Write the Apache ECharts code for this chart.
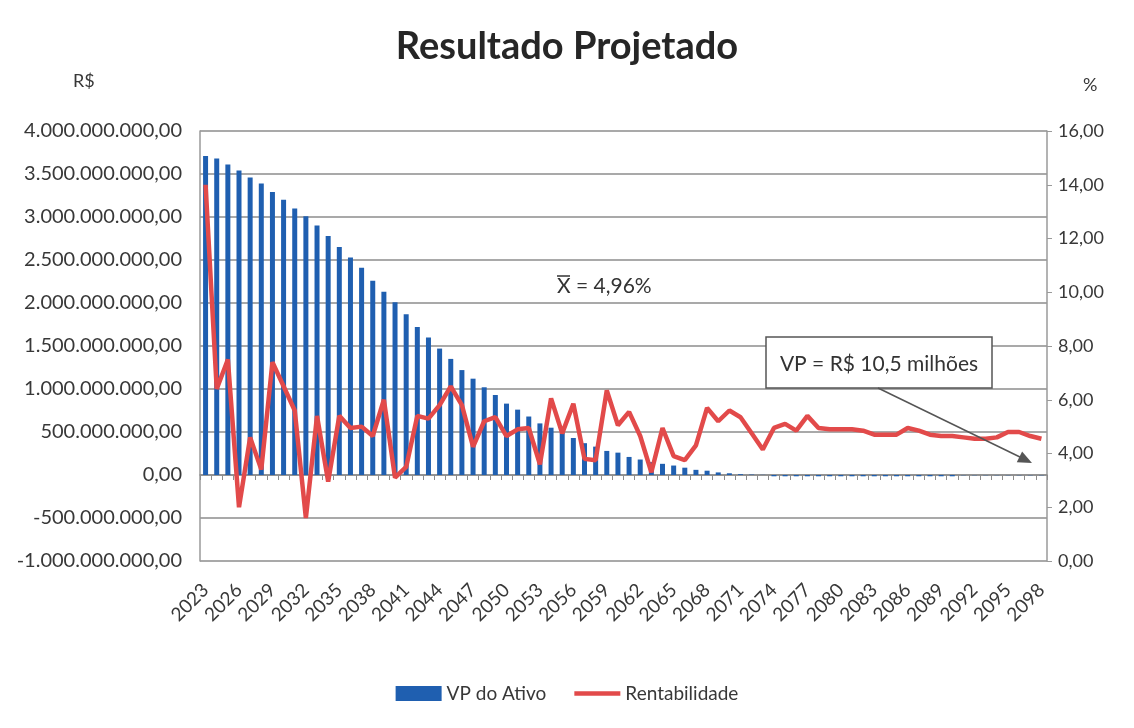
<!DOCTYPE html>
<html>
<head>
<meta charset="utf-8">
<script src="https://cdn.jsdelivr.net/npm/echarts@6/dist/echarts.min.js"></script>
<style>
  html, body { margin: 0; padding: 0; background: #fff; }
  #chart { width: 1134px; height: 728px; }
</style>
</head>
<body>
<div id="chart"></div>
<script>
// anos 2023..2098
const anos = [];
for (let a = 2023; a <= 2098; a++) anos.push(String(a));

// VP do Ativo (R$)
const vpAtivo = [
  3.71e9, 3.68e9, 3.61e9, 3.54e9, 3.46e9, 3.39e9, 3.29e9, 3.20e9, 3.10e9, 3.01e9,
  2.90e9, 2.78e9, 2.65e9, 2.53e9, 2.41e9, 2.26e9, 2.13e9, 2.01e9, 1.87e9, 1.72e9,
  1.60e9, 1.47e9, 1.35e9, 1.22e9, 1.12e9, 1.02e9, 0.93e9, 0.83e9, 0.76e9, 0.68e9,
  0.60e9, 0.55e9, 0.49e9, 0.43e9, 0.37e9, 0.33e9, 0.28e9, 0.26e9, 0.21e9, 0.18e9,
  0.15e9, 0.13e9, 0.11e9, 0.085e9, 0.06e9, 0.05e9, 0.03e9, 0.02e9, 0.01e9, 0.005e9,
  0.002e9, -0.015e9, -0.015e9, -0.015e9, -0.015e9, -0.015e9, -0.015e9, -0.015e9, -0.015e9, -0.015e9,
  -0.015e9, -0.015e9, -0.015e9, -0.015e9, -0.015e9, -0.015e9, -0.015e9, -0.015e9, -0.003e9, -0.003e9,
  -0.003e9, -0.003e9, -0.003e9, -0.003e9, -0.003e9, -0.003e9
];

// Rentabilidade (%)
const rentabilidade = [
  14.0, 6.4, 7.5, 2.0, 4.6, 3.4, 7.4, 6.5, 5.6, 1.6,
  5.4, 2.95, 5.4, 4.95, 5.0, 4.65, 6.0, 3.1, 3.5, 5.4,
  5.3, 5.8, 6.5, 5.8, 4.25, 5.2, 5.35, 4.65, 4.9, 4.95,
  3.6, 6.05, 4.75, 5.85, 3.8, 3.75, 6.35, 5.05, 5.55, 4.65,
  3.3, 4.95, 3.9, 3.75, 4.3, 5.7, 5.2, 5.6, 5.35, 4.75,
  4.15, 4.95, 5.1, 4.85, 5.4, 4.95, 4.9, 4.9, 4.9, 4.85,
  4.7, 4.7, 4.7, 4.95, 4.85, 4.7, 4.65, 4.65, 4.6, 4.55,
  4.55, 4.6, 4.8, 4.8, 4.65, 4.55
];

const fonte = 'Lato, "Liberation Sans", sans-serif';
const corTexto = '#383838';

// formato brasileiro: 1.000.000,00
function fmtBR(v) {
  const neg = v < 0;
  const s = Math.abs(v).toFixed(2).split('.');
  const inteiro = s[0].replace(/\B(?=(\d{3})+(?!\d))/g, '.');
  return (neg ? '-' : '') + inteiro + ',' + s[1];
}

const chart = echarts.init(document.getElementById('chart'));

const option = {
  backgroundColor: '#fff',
  textStyle: { fontFamily: fonte },
  title: {
    text: 'Resultado Projetado',
    left: 'center',
    top: 23,
    textStyle: { fontSize: 38, fontWeight: 'bold', color: '#262626', fontFamily: fonte }
  },
  legend: {
    bottom: 20,
    left: 'center',
    itemWidth: 46,
    itemHeight: 15,
    itemGap: 28,
    textStyle: { fontSize: 19, color: corTexto, fontFamily: fonte },
    data: [
      { name: 'VP do Ativo', icon: 'rect' },
      { name: 'Rentabilidade', icon: 'path://M0,0H50V5H0Z' }
    ]
  },
  grid: { left: 200, right: 87, top: 131, bottom: 167 },
  xAxis: [
    {
      type: 'category',
      data: anos,
      axisLine: { onZero: true, lineStyle: { color: '#8c8c8c', width: 1.5 } },
      axisTick: { show: true, interval: 0, length: 5, lineStyle: { color: '#8c8c8c' } },
      axisLabel: { show: false }
    },
    {
      type: 'category',
      data: anos,
      position: 'bottom',
      axisLine: { show: false, onZero: false },
      axisTick: { show: false },
      axisLabel: {
        interval: 2,
        rotate: 45,
        margin: 26,
        fontSize: 19,
        color: corTexto,
        fontFamily: fonte
      }
    }
  ],
  yAxis: [
    {
      type: 'value',
      min: -1e9,
      max: 4e9,
      interval: 5e8,
      axisLine: { show: true, lineStyle: { color: '#9a9a9a', width: 1.5 } },
      axisTick: { show: false },
      splitLine: { lineStyle: { color: '#8c8c8c', width: 1.5 } },
      axisLabel: {
        fontSize: 20,
        color: corTexto,
        margin: 18,
        fontFamily: fonte,
        formatter: v => fmtBR(v)
      }
    },
    {
      type: 'value',
      min: 0,
      max: 16,
      interval: 2,
      axisLine: { show: true, lineStyle: { color: '#9a9a9a', width: 1.5 } },
      axisTick: { show: true, length: 5, lineStyle: { color: '#9a9a9a' } },
      splitLine: { show: false },
      axisLabel: {
        fontSize: 18,
        color: corTexto,
        margin: 11,
        fontFamily: fonte,
        formatter: v => fmtBR(v)
      }
    }
  ],
  series: [
    {
      name: 'VP do Ativo',
      type: 'bar',
      xAxisIndex: 0,
      yAxisIndex: 0,
      data: vpAtivo,
      barWidth: 5,
      itemStyle: { color: '#1f5fb0' }
    },
    {
      name: 'Rentabilidade',
      type: 'line',
      xAxisIndex: 0,
      yAxisIndex: 1,
      data: rentabilidade,
      symbol: 'none',
      lineStyle: { color: '#e24a4a', width: 4.5 },
      itemStyle: { color: '#e24a4a' },
      z: 3
    }
  ],
  graphic: [
    { type: 'text', left: 73, top: 72, style: { text: 'R$', fontSize: 18, fill: corTexto, fontFamily: fonte } },
    { type: 'text', left: 1083, top: 76, style: { text: '%', fontSize: 18, fill: corTexto, fontFamily: fonte } },
    // média
    { type: 'text', left: 557, top: 276, style: { text: 'X = 4,96%', fontSize: 21, fill: '#333', fontFamily: fonte } },
    { type: 'line', shape: { x1: 557, y1: 276, x2: 570, y2: 276 }, style: { stroke: '#333', lineWidth: 1.5 } },
    // caixa VP
    { type: 'rect', shape: { x: 766, y: 337, width: 226, height: 51 }, style: { fill: '#fff', stroke: '#555', lineWidth: 1.5 }, z: 10 },
    { type: 'text', x: 879, y: 364, style: { text: 'VP = R$ 10,5 milhões', fontSize: 21, fill: '#333', align: 'center', verticalAlign: 'middle', fontFamily: fonte }, z: 11 },
    { type: 'line', shape: { x1: 878, y1: 388, x2: 1022, y2: 458 }, style: { stroke: '#555', lineWidth: 1.5 }, z: 10 },
    { type: 'polygon', shape: { points: [[1032, 463], [1016.8, 462.2], [1022.1, 451.4]] }, style: { fill: '#555' }, z: 10 }
  ]
};

chart.setOption(option);
</script>
</body>
</html>
